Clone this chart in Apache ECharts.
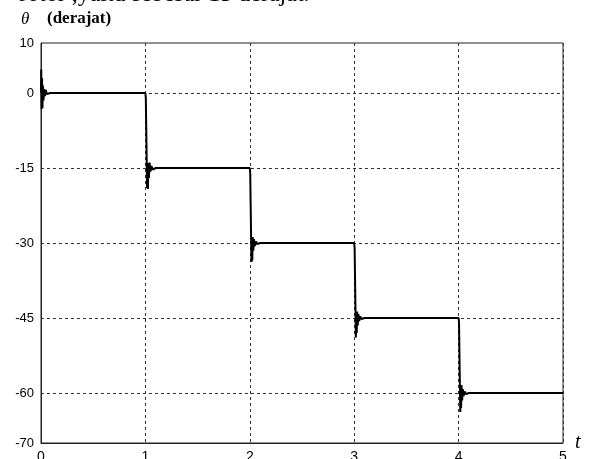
<!DOCTYPE html>
<html>
<head>
<meta charset="utf-8">
<script src="https://cdn.jsdelivr.net/npm/echarts@6/dist/echarts.min.js"></script>
<style>
html,body{margin:0;padding:0;background:#fff;}
#chart{width:589px;height:459px;}
</style>
</head>
<body>
<div id="chart"></div>
<script>
// time (s) samples of the response
var timeData = [
  0, 0.002, 0.006, 0.010, 0.014, 0.018, 0.024, 0.030, 0.038, 0.046, 0.056, 0.070, 0.090,
  1.000, 1.004, 1.008, 1.012, 1.016, 1.020, 1.024, 1.028, 1.034, 1.040, 1.048, 1.058, 1.070, 1.085, 1.100,
  2.000, 2.004, 2.008, 2.012, 2.016, 2.020, 2.024, 2.028, 2.034, 2.040, 2.048, 2.058, 2.070, 2.085, 2.100,
  3.000, 3.004, 3.008, 3.012, 3.016, 3.020, 3.024, 3.028, 3.034, 3.040, 3.048, 3.058, 3.070, 3.085, 3.100,
  4.000, 4.004, 4.008, 4.012, 4.016, 4.020, 4.024, 4.028, 4.034, 4.040, 4.048, 4.058, 4.070, 4.085, 4.100,
  5.000
];
// theta (derajat) values
var thetaData = [
  0, 4.7, -3.2, 3.0, -3.0, 1.5, -1.5, 0.8, -0.6, 0.6, -0.2, 0.2, 0,
  0, -1, -7, -13, -19, -16, -19.2, -14.0, -17.0, -13.9, -15.7, -14.6, -15.3, -14.9, -15,
  -15, -16, -22, -28, -33.8, -30, -33.5, -28.8, -31.5, -29.2, -30.6, -29.7, -30.2, -29.9, -30,
  -30, -31, -37, -43, -48.9, -44, -48, -43.7, -46.5, -44.2, -45.6, -44.7, -45.2, -44.9, -45,
  -45, -46, -52, -58, -63.8, -59, -63, -58.4, -61.5, -59.2, -60.6, -59.7, -60.2, -59.9, -60,
  -60
];
var xTicks = [0, 1, 2, 3, 4, 5];
var yTickLabels = [10, 0, -15, -30, -45, -60, -70];
var yGridValues = [0, -15, -30, -45, -60];
var captionText = 'rotor ,yaitu sebesar 15 derajat.';

var points = timeData.map(function (t, i) { return [t, thetaData[i]]; });

var serif = '"Liberation Serif", "Times New Roman", serif';
var sans = '"Liberation Sans", Arial, sans-serif';

var chart = echarts.init(document.getElementById('chart'), null, {renderer: 'canvas'});
chart.setOption({
  animation: false,
  backgroundColor: '#fff',
  grid: {left: 41, right: 26, top: 43, bottom: 16, outerBoundsMode: 'none', containLabel: false,
    show: true, borderColor: '#222', borderWidth: 1, backgroundColor: 'transparent'},
  graphic: [
    {type: 'text', left: 19, top: -17, style: {text: captionText, fontSize: 24, fontFamily: serif, fill: '#000'}},
    {type: 'text', left: 21, top: 11, style: {text: 'θ', fontSize: 17, fontStyle: 'italic', fontFamily: serif, fill: '#000'}},
    {type: 'text', left: 47, top: 10, style: {text: '(derajat)', fontSize: 17, fontWeight: 'bold', fontFamily: serif, fill: '#000'}},
    {type: 'text', left: 575, top: 433, style: {text: 't', fontSize: 20, fontStyle: 'italic', fontFamily: serif, fill: '#000'}}
  ],
  xAxis: {
    type: 'value', min: 0, max: 5, interval: 1,
    axisLine: {show: true, onZero: false, lineStyle: {color: '#222', width: 1}},
    axisTick: {show: false},
    axisLabel: {color: '#000', fontSize: 14, fontFamily: sans, margin: 7,
      formatter: function (v) { return xTicks.indexOf(v) >= 0 ? String(v) : ''; }},
    splitLine: {show: true, lineStyle: {color: '#333', type: [3, 3], width: 1}}
  },
  yAxis: {
    type: 'value', min: -70, max: 10, interval: 5,
    axisLine: {show: true, onZero: false, lineStyle: {color: '#222', width: 1}},
    axisTick: {show: false},
    axisLabel: {color: '#000', fontSize: 13, fontFamily: sans, margin: 7,
      formatter: function (v) { return yTickLabels.indexOf(v) >= 0 ? String(v) : ''; }},
    splitLine: {show: false}
  },
  series: [
    {
      type: 'line', data: [], silent: true,
      markLine: {
        silent: true, symbol: ['none', 'none'], label: {show: false},
        lineStyle: {color: '#333', type: [3, 3], width: 1},
        data: yGridValues.map(function (v) { return {yAxis: v}; })
      }
    },
    {
      type: 'line', data: points, showSymbol: false, symbol: 'none',
      lineStyle: {color: '#000', width: 2}, z: 5
    }
  ]
});
</script>
</body>
</html>
